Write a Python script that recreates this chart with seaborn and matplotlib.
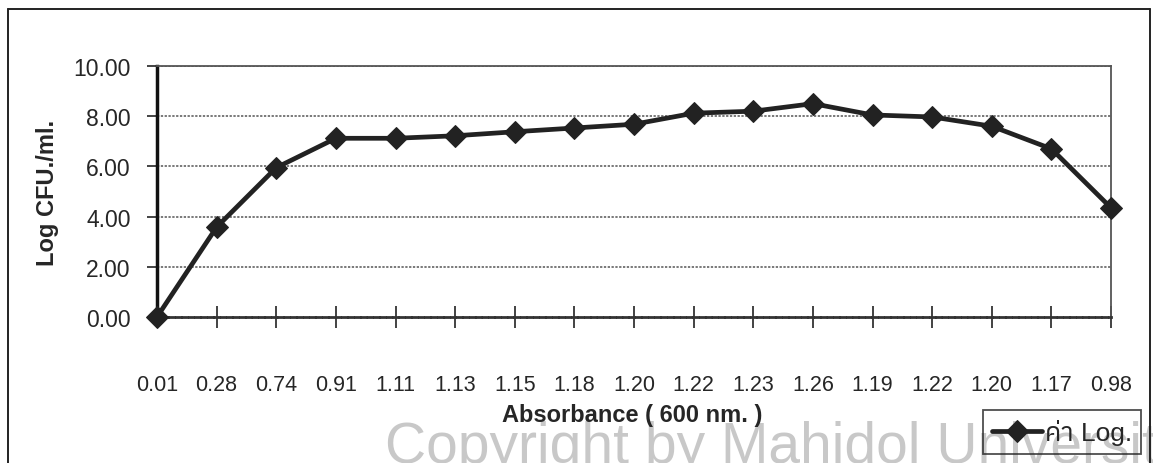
import matplotlib
matplotlib.use("Agg")
import matplotlib.pyplot as plt
from matplotlib import font_manager
from matplotlib.font_manager import FontProperties
from matplotlib.ft2font import FT2Font
from matplotlib.lines import Line2D
import seaborn as sns
import pandas as pd

absorbance_labels = ["0.01", "0.28", "0.74", "0.91", "1.11", "1.13", "1.15", "1.18", "1.20",
                     "1.22", "1.23", "1.26", "1.19", "1.22", "1.20", "1.17", "0.98"]
log_cfu = [0.00, 3.58, 5.95, 7.12, 7.12, 7.22, 7.38, 7.53, 7.68,
           8.12, 8.20, 8.50, 8.05, 7.97, 7.60, 6.70, 4.35]
y_ticks = [0, 2, 4, 6, 8, 10]
series_name = "ค่า Log."

# find installed families with Thai glyphs
thai_fams = []
for fe in font_manager.fontManager.ttflist:
    try:
        cm = FT2Font(fe.fname).get_charmap()
        if 0x0E04 in cm and 0x0E32 in cm and 0x0E48 in cm:
            thai_fams.append(fe.name)
    except Exception:
        pass
thai_fams = sorted(set(thai_fams))

sns.set_theme(style="white")
plt.rcParams['font.family'] = ['Liberation Sans', 'DejaVu Sans']

W, H = 1153, 464
fig = plt.figure(figsize=(W / 100, H / 100), dpi=100)
ax = fig.add_axes([157 / W, 1 - 318 / H, (1111 - 157) / W, (318 - 67) / H])
ax.patch.set_alpha(0)

df = pd.DataFrame({"idx": range(len(log_cfu)), "val": log_cfu, "s": series_name})
sns.lineplot(data=df, x="idx", y="val", hue="s", palette=["#222222"], ax=ax,
             linewidth=3.4, marker="D", markersize=11.5, markeredgecolor="#222222",
             clip_on=False, zorder=5, legend=True)

ax.set_xlim(0, len(log_cfu) - 1)
ax.set_ylim(0, 10)
ax.set_yticks(y_ticks)
ax.set_yticklabels([f"{v:.2f}" for v in y_ticks], fontsize=16.5)
ax.set_xticks(range(len(log_cfu)))
ax.set_xticklabels(absorbance_labels, fontsize=15.5)
ax.tick_params(axis="y", direction="out", length=7, width=1.2, color="#222222", pad=12, left=True)
ax.tick_params(axis="x", direction="inout", length=16, width=1.2, color="#222222", pad=33, bottom=True)

for y in y_ticks[1:]:
    ax.axhline(y, color="#555555", lw=1.1, ls=(0, (1.5, 1)), zorder=1)

ax.spines["left"].set_linewidth(2.5)
ax.spines["left"].set_color("#111111")
ax.spines["bottom"].set_linewidth(2.0)
ax.spines["bottom"].set_color("#333333")
ax.spines["bottom"].set_linestyle((0, (1.5, 0.8)))
for s in ["top", "right"]:
    ax.spines[s].set_visible(True)
    ax.spines[s].set_color("#555555")
    ax.spines[s].set_linewidth(1.3)
    ax.spines[s].set_linestyle((0, (1.5, 1)))

ax.set_ylabel("Log CFU./ml.", fontsize=17, fontweight="bold", labelpad=10)
ax.set_xlabel("")
fig.text(632 / W, 1 - 416 / H, "Absorbance ( 600 nm. )", fontsize=17, fontweight="bold",
         ha="center", va="center", zorder=3)

# watermark (drawn beneath everything)
fig.text(385 / W, 1 - 463 / H, "Copyright by Mahidol University", fontsize=41,
         color="#c8c8c8", ha="left", va="baseline", family=['Liberation Sans'],
         zorder=-5)

leg_prop = FontProperties(family=['Liberation Sans'] + thai_fams + ['DejaVu Sans'], size=19)
leg = ax.legend(loc="lower right", bbox_to_anchor=(1141 / W, 9 / H),
                bbox_transform=fig.transFigure, prop=leg_prop, frameon=True,
                fancybox=False, edgecolor="#222222", facecolor="none", framealpha=None,
                handlelength=1.9, handletextpad=0.1, borderpad=0.35, borderaxespad=0,
                title=None)
leg.get_frame().set_linewidth(1.3)
leg.set_zorder(10)

# outer chart frame
for xs, ys in [([8, 8], [464, 10]), ([8, 1150], [10, 10]), ([1150, 1150], [10, 464])]:
    fig.add_artist(Line2D([x / W for x in xs], [1 - y / H for y in ys],
                          transform=fig.transFigure, color="#222222", lw=1.4))

fig.savefig("out.png", dpi=100)
